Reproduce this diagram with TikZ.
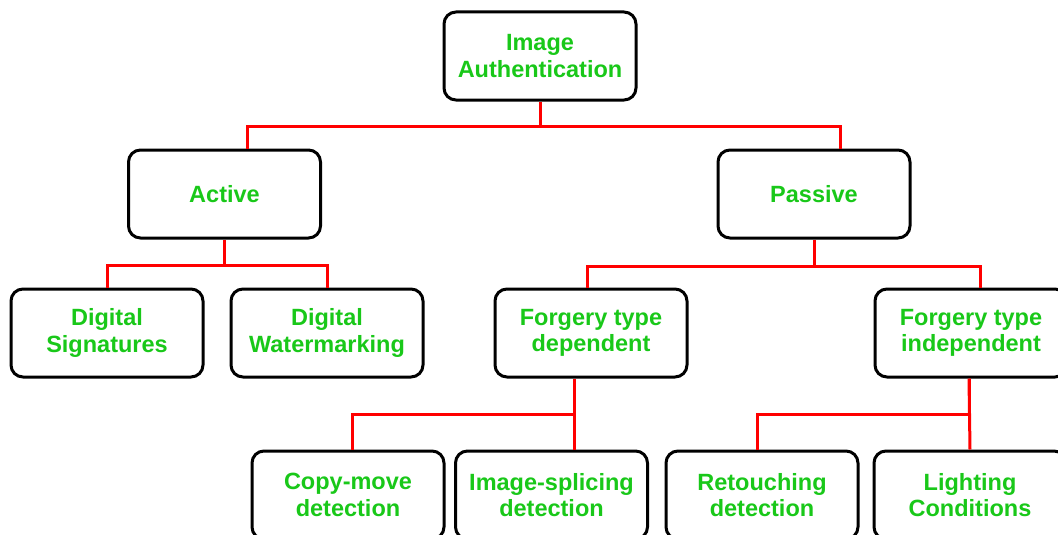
\documentclass[tikz,border=0pt]{standalone}
\usepackage{fontspec}
\setmainfont{Liberation Sans}
\definecolor{txtgreen}{RGB}{25,200,25}
\definecolor{lnred}{RGB}{255,0,0}
\begin{document}
\begin{tikzpicture}[x=1pt,y=-1pt,
  box/.style={draw=black, fill=white, line width=3pt, rounded corners=12pt,
    minimum width=192pt, minimum height=88pt, align=center,
    font=\fontsize{23.5}{26.5}\selectfont\bfseries, text=txtgreen, inner sep=0pt},
  conn/.style={draw=lnred, line width=3pt}]
\useasboundingbox (0,0) rectangle (1058,535);
\clip (0,0) rectangle (1058,535);
% nodes
\node[box] (top) at (540,56) {Image\\Authentication};
\node[box] (active) at (224.5,194) {Active};
\node[box] (passive) at (814,194) {Passive};
\node[box] (digsig) at (107,333) {Digital\\Signatures};
\node[box] (water) at (327,333) {Digital\\Watermarking};
\node[box] (fdep) at (591,333) {Forgery type\\dependent};
\node[box] (find) at (971,333) {Forgery type\\independent};
\node[box] (copy) at (348,495) {Copy-move\\detection};
\node[box] (splice) at (551.5,495) {Image-splicing\\detection};
\node[box] (retouch) at (762,495) {Retouching\\detection};
\node[box] (light) at (970,495) {Lighting\\Conditions};
% connectors
\draw[conn] (top.south) -- ++(0,25) -| ([xshift=22.5pt]active.north);
\draw[conn] (top.south) -- ++(0,25) -| ([xshift=26pt]passive.north);
\draw[conn] (active.south) -- ++(0,26) -| (digsig.north);
\draw[conn] (active.south) -- ++(0,26) -| (water.north);
\draw[conn] (passive.south) -- ++(0,27) -| ([xshift=-4pt]fdep.north);
\draw[conn] (passive.south) -- ++(0,27) -| ([xshift=9pt]find.north);
\draw[conn] ([xshift=-17pt]fdep.south) -- ++(0,36) -| ([xshift=4pt]copy.north);
\draw[conn] ([xshift=-17pt]fdep.south) -- ([xshift=22.5pt]splice.north);
\draw[conn] ([xshift=-2pt]find.south) -- ++(0,36) -| ([xshift=-5pt]retouch.north);
\draw[conn] ([xshift=-2pt]find.south) -- (light.north);
\end{tikzpicture}
\end{document}
